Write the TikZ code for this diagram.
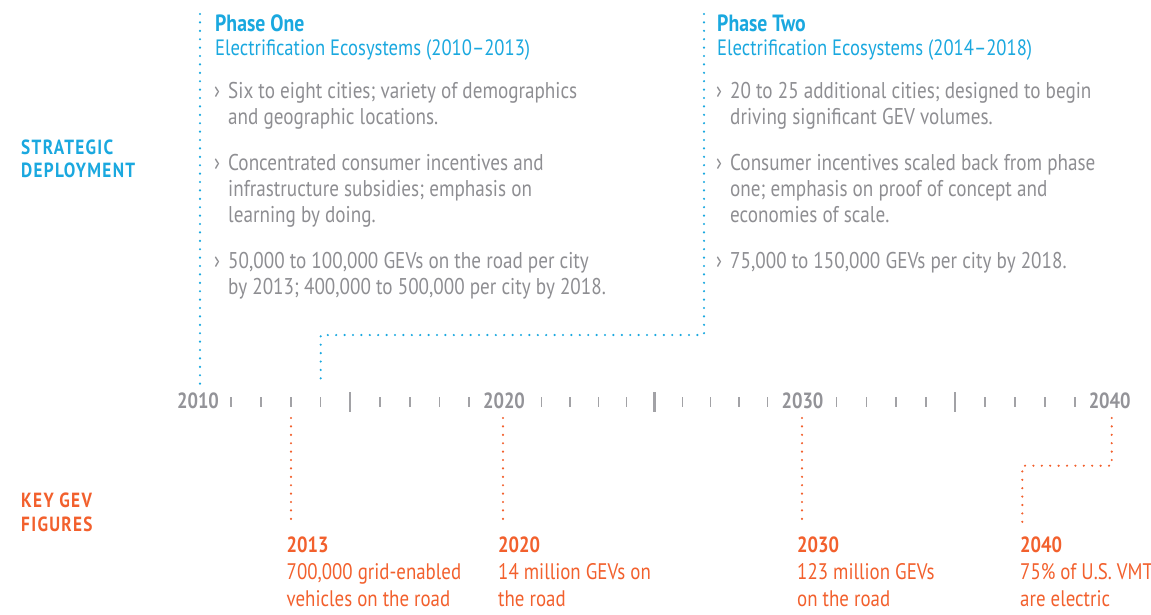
\documentclass[tikz,border=0pt]{standalone}
\usepackage{fontspec}
\setmainfont{PT Sans}[FakeStretch=0.84]
\definecolor{cblue}{HTML}{1AA8DF}
\definecolor{corange}{HTML}{F2602D}
\definecolor{cgray}{HTML}{8E8E92}
\definecolor{ygray}{HTML}{939398}
\definecolor{tgray}{HTML}{A2A2A6}
\tikzset{
  body/.style={anchor=base west, inner sep=0pt, text=cgray, font=\fontsize{22.8}{26}\selectfont},
  bul/.style={anchor=base west, inner sep=0pt, text=cgray, font=\fontsize{24}{26}\selectfont},
  phasehead/.style={anchor=base west, inner sep=0pt, text=cblue, font=\fontsize{23.5}{26}\selectfont\bfseries},
  phasesub/.style={anchor=base west, inner sep=0pt, text=cblue, font=\fontsize{22.2}{26}\selectfont},
  sidelab/.style={anchor=base west, inner sep=0pt, font=\fontsize{20.5}{24}\selectfont\bfseries\addfontfeature{LetterSpace=6.5}},
  axisyear/.style={anchor=base, inner sep=0pt, text=ygray, font=\fontsize{22}{26}\selectfont\bfseries},
  figyear/.style={anchor=base west, inner sep=0pt, text=corange, font=\fontsize{22}{26}\selectfont\bfseries},
  figtext/.style={anchor=base west, inner sep=0pt, text=corange, font=\fontsize{22.5}{26}\selectfont},
  dotline/.style={line width=2.4pt, line cap=round, dash pattern=on 0pt off 8.4pt},
  smalltick/.style={draw=tgray, line width=1.5pt},
  bigtick/.style={draw=tgray, line width=2.6pt},
}
\begin{document}
\begin{tikzpicture}[x=1pt,y=-1pt]
\useasboundingbox (0,0) rectangle (1151,614);
% side labels
\node[sidelab, text=cblue] (sd1) at (21,154) {STRATEGIC};
\node[sidelab, text=cblue] (sd2) at (21,177.5) {DEPLOYMENT};
\node[sidelab, text=corange] (kg1) at (21,507) {KEY GEV};
\node[sidelab, text=corange] (kg2) at (21,531) {FIGURES};
% Phase one
\node[phasehead] (p1h) at (215,31) {Phase One};
\node[phasesub] (p1s) at (215,55.5) {Electrification Ecosystems (2010–2013)};
\node[bul] (p1b1) at (214,98) {›};
\node[body] (p1a1) at (228,98) {Six to eight cities; variety of demographics};
\node[body] (p1a2) at (228,124.5) {and geographic locations.};
\node[bul] (p1b2) at (214,170) {›};
\node[body] (p1c1) at (228,170) {Concentrated consumer incentives and};
\node[body] (p1c2) at (228,196) {infrastructure subsidies; emphasis on};
\node[body] (p1c3) at (228,222) {learning by doing.};
\node[bul] (p1b3) at (214,268) {›};
\node[body] (p1d1) at (228,268) {50,000 to 100,000 GEVs on the road per city};
\node[body] (p1d2) at (228,294) {by 2013; 400,000 to 500,000 per city by 2018.};
% Phase two
\node[phasehead] (p2h) at (717,31) {Phase Two};
\node[phasesub] (p2s) at (717,55.5) {Electrification Ecosystems (2014–2018)};
\node[bul] (p2b1) at (716,98) {›};
\node[body] (p2a1) at (730,98) {20 to 25 additional cities; designed to begin};
\node[body] (p2a2) at (730,124.5) {driving significant GEV volumes.};
\node[bul] (p2b2) at (716,170) {›};
\node[body] (p2c1) at (730,170) {Consumer incentives scaled back from phase};
\node[body] (p2c2) at (730,196) {one; emphasis on proof of concept and};
\node[body] (p2c3) at (730,222) {economies of scale.};
\node[bul] (p2b3) at (716,268) {›};
\node[body] (p2d1) at (730,268) {75,000 to 150,000 GEVs per city by 2018.};
% axis year labels
\node[axisyear] (y2010) at (198,408.5) {2010};
\node[axisyear] (y2020) at (504,408.5) {2020};
\node[axisyear] (y2030) at (802.5,408.5) {2030};
\node[axisyear] (y2040) at (1109.7,408.5) {2040};
% ticks
\foreach \x in {231,261,291,320.5,380,410,439.5,469,541.7,570,598.3,626.7,682.3,710.7,739,767.3,836.7,866.7,896,926,985,1015,1045,1075}
  \draw[smalltick] (\x,397) -- (\x,406.5);
\foreach \x in {350,654.3,955}
  \draw[bigtick] (\x,392) -- (\x,411.5);
% phase connectors
\coordinate (c1top) at (200,14);
\coordinate (c1bot) at (200,386);
\draw[dotline, cblue] (c1top) -- (c1bot);
\coordinate (c2top) at (704,14);
\coordinate (c2mid1) at (704,335);
\coordinate (c2mid2) at (320.7,335);
\coordinate (c2bot) at (320.7,386);
\draw[dotline, cblue] (c2top) -- (c2mid1) -- (c2mid2) -- (c2bot);
% figure connectors and labels
\node[figyear] (f13) at (286.5,552.5) {2013};
\node[figtext] (f13a) at (286.5,579) {700,000 grid-enabled};
\node[figtext] (f13b) at (286.5,606) {vehicles on the road};
\node[figyear] (f20) at (498,552.5) {2020};
\node[figtext] (f20a) at (498,579) {14 million GEVs on};
\node[figtext] (f20b) at (498,606) {the road};
\node[figyear] (f30) at (797,552.5) {2030};
\node[figtext] (f30a) at (797,579) {123 million GEVs};
\node[figtext] (f30b) at (797,606) {on the road};
\node[figyear] (f40) at (1020,552.5) {2040};
\node[figtext] (f40a) at (1020,579) {75\% of U.S. VMT};
\node[figtext] (f40b) at (1020,606) {are electric};
\coordinate (o13t) at (291,418); \coordinate (o13b) at (291,527);
\coordinate (o20t) at (503,418); \coordinate (o20b) at (503,527);
\coordinate (o30t) at (802,418); \coordinate (o30b) at (802,527);
\coordinate (o40t) at (1111.7,418); \coordinate (o40m1) at (1111.7,465.7);
\coordinate (o40m2) at (1022.3,465.7); \coordinate (o40b) at (1022.3,527);
\draw[dotline, corange] (o13t) -- (o13b);
\draw[dotline, corange] (o20t) -- (o20b);
\draw[dotline, corange] (o30t) -- (o30b);
\draw[dotline, corange] (o40t) -- (o40m1) -- (o40m2) -- (o40b);
\end{tikzpicture}
\end{document}
